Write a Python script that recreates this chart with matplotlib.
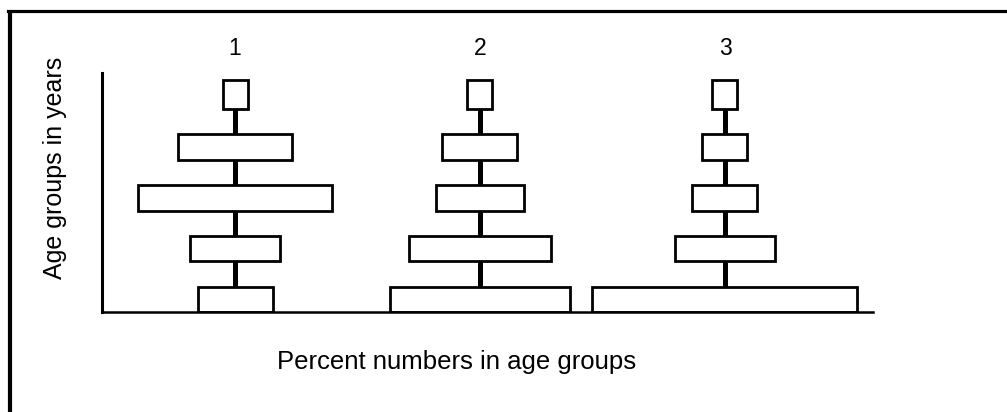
import matplotlib

matplotlib.use('Agg')
import matplotlib.pyplot as plt
from matplotlib.lines import Line2D
from matplotlib.transforms import blended_transform_factory

plt.rcParams['font.family'] = ['Liberation Sans', 'DejaVu Sans']

# percent of population in each age group, youngest (bottom) to oldest (top)
groups = ['1', '2', '3']
pyramid1 = [15, 18, 39, 23, 5]
pyramid2 = [36, 28.5, 17.5, 15, 5]
pyramid3 = [53, 20, 13, 9, 5]
pyramids = [pyramid1, pyramid2, pyramid3]

centers = [26.6, 75.6, 124.6]
levels = [0.25, 1.25, 2.25, 3.25, 4.28]
heights = [0.5, 0.5, 0.5, 0.5, 0.57]

fig = plt.figure(figsize=(10.07, 4.12), dpi=100)
ax = fig.add_axes([0.1013, 0.2427, 0.7656, 0.5801])

for c, vals, name in zip(centers, pyramids, groups):
    # thick stem joining the boxes
    ax.plot([c, c], [0, levels[-1]], color='black', lw=3.6, zorder=1,
            solid_capstyle='butt')
    lefts = [c - v / 2 for v in vals]
    ax.barh(levels, vals, height=heights, left=lefts, facecolor='white',
            edgecolor='black', linewidth=2.0, zorder=2)
    trans = blended_transform_factory(ax.transData, fig.transFigure)
    ax.text(c, 0.883, name, transform=trans, ha='center', va='center',
            fontsize=16.5)

ax.set_xlim(0, 154.2)
ax.set_ylim(0, 4.71)
ax.set_xticks([])
ax.set_yticks([])
for s in ['top', 'right']:
    ax.spines[s].set_visible(False)
ax.spines['left'].set_linewidth(2.2)
ax.spines['bottom'].set_linewidth(1.8)

fig.text(0.055, 0.592, 'Age groups in years', rotation=90, ha='center',
         va='center', fontsize=18)
fig.text(0.453, 0.121, 'Percent numbers in age groups', ha='center',
         va='center', fontsize=18.5)

# frame lines on the top and left edges
top_y = 1 - 11.3 / 412
fig.add_artist(Line2D([8 / 1007, 1], [top_y, top_y], color='black',
                      lw=2.3, transform=fig.transFigure))
fig.add_artist(Line2D([9.5 / 1007] * 2, [0, top_y], color='black',
                      lw=3.0, transform=fig.transFigure,
                      solid_capstyle='butt'))

plt.savefig('out.png', dpi=100)
